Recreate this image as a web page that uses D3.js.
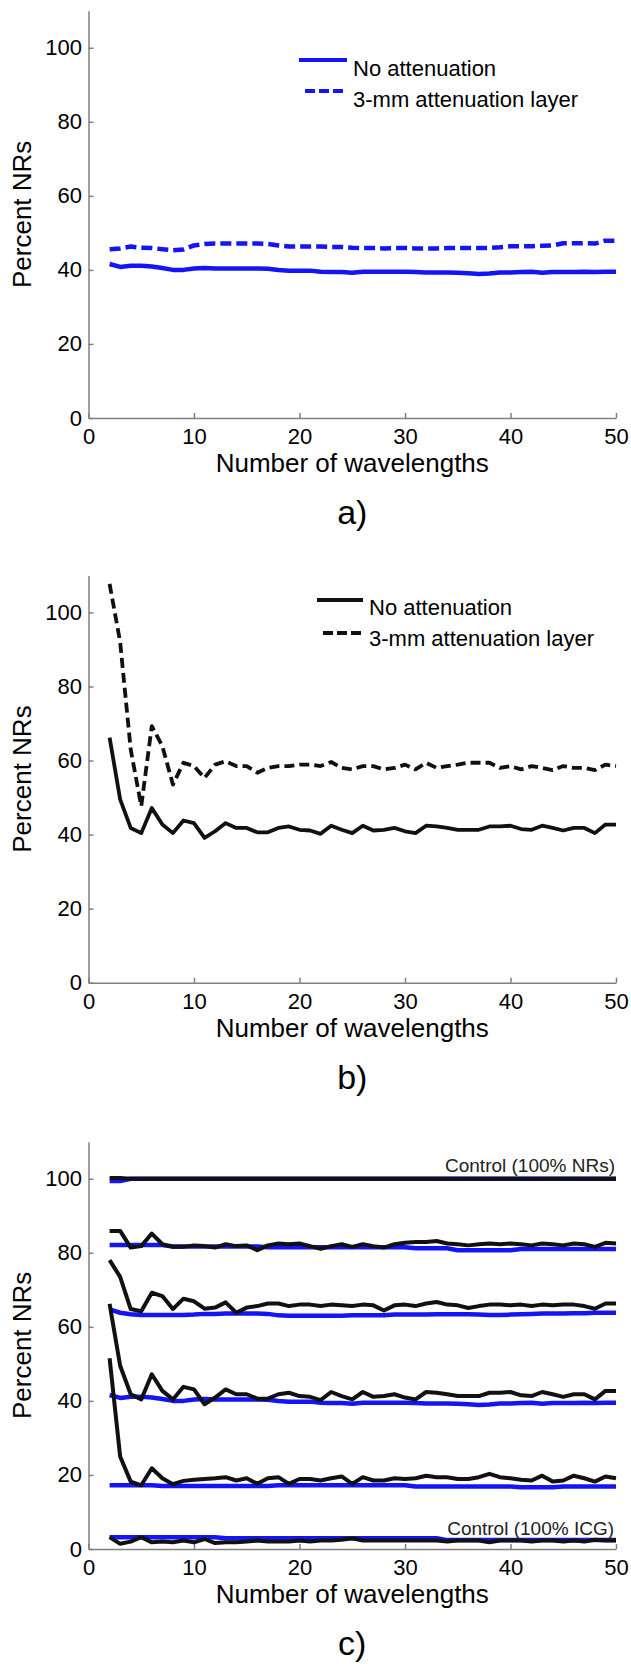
<!DOCTYPE html>
<html>
<head>
<meta charset="utf-8">
<script src="https://cdn.jsdelivr.net/npm/d3@7"></script>
<style>
  body { margin: 0; background: #fff; }
  svg { display: block; font-family: "Liberation Sans", Arial, sans-serif; }
</style>
</head>
<body>
<div id="chart"></div>
<script>
// ---------------- data ----------------
const wavelengths = [2,3,4,5,6,7,8,9,10,11,12,13,14,15,16,17,18,19,20,21,22,23,24,25,26,27,28,29,30,31,32,33,34,35,36,37,38,39,40,41,42,43,44,45,46,47,48,49,50];
const xTicks = [0, 10, 20, 30, 40, 50];
const yTicks = [0, 20, 40, 60, 80, 100];
const panelLetters = ["a)", "b)", "c)"];
const legendNames = ["No attenuation", "3-mm attenuation layer"];
const controlNames = ["Control (100% NRs)", "Control (100% ICG)"];

// a) mixture, blue
const aNoAtten = [41.6,40.8,41.1,41.1,40.9,40.5,40.0,40.0,40.4,40.5,40.4,40.4,40.4,40.4,40.4,40.3,40.0,39.8,39.8,39.8,39.5,39.4,39.4,39.2,39.5,39.5,39.5,39.5,39.5,39.4,39.3,39.3,39.3,39.2,39.1,38.9,39.0,39.3,39.3,39.4,39.5,39.2,39.4,39.4,39.4,39.5,39.4,39.5,39.5];
const aAtten = [45.6,45.8,46.3,46.0,45.9,45.6,45.3,45.5,46.6,47.0,47.1,47.1,47.1,47.1,47.1,47.0,46.6,46.3,46.3,46.3,46.3,46.2,46.2,46.0,45.9,45.9,45.8,45.9,45.9,45.8,45.8,45.8,45.9,45.9,45.9,45.9,45.9,46.1,46.4,46.4,46.4,46.5,46.6,47.2,47.2,47.2,47.1,47.9,47.9];

// b) mixture, black
const bNoAtten = [66.2,49.5,41.8,40.4,47.2,42.7,40.4,43.8,43.1,39.1,40.9,43.1,41.8,41.8,40.6,40.6,41.8,42.2,41.3,41.1,40.2,42.4,41.3,40.4,42.4,41.1,41.3,41.8,40.9,40.4,42.4,42.2,41.8,41.3,41.3,41.3,42.2,42.2,42.4,41.5,41.3,42.4,41.8,41.1,41.8,41.8,40.4,42.7,42.7];
const bAtten = [107.7,92.0,63.0,47.7,69.3,63.9,53.5,59.4,58.5,55.3,58.9,59.8,58.5,58.5,56.7,58.0,58.5,58.5,58.9,58.9,58.5,59.6,58.0,57.6,58.5,58.5,57.6,58.0,58.9,57.6,59.4,58.0,58.5,58.9,59.4,59.4,59.4,58.0,58.5,57.6,58.5,58.0,57.4,58.5,58.0,58.0,57.4,58.9,58.5];

// c) several mixtures, blue = no attenuation, black = attenuation layer
const cBlue100 = [99.4,99.4,100,100,100,100,100,100,100,100,100,100,100,100,100,100,100,100,100,100,100,100,100,100,100,100,100,100,100,100,100,100,100,100,100,100,100,100,100,100,100,100,100,100,100,100,100,100,100];
const cBlue82 = [82.1,82.1,82.1,82.1,82.1,82.1,81.7,81.7,81.7,81.7,81.7,81.7,81.7,81.7,81.7,81.5,81.5,81.5,81.5,81.5,81.5,81.5,81.5,81.5,81.5,81.5,81.5,81.5,81.5,81.2,81.2,81.2,81.2,80.7,80.7,80.7,80.7,80.7,80.7,81.0,81.0,81.0,81.0,81.0,81.0,81.0,81.0,81.0,81.0];
const cBlue64 = [64.7,63.8,63.4,63.2,63.2,63.2,63.2,63.2,63.3,63.5,63.5,63.6,63.6,63.6,63.6,63.5,63.1,63.0,63.0,63.0,63.0,63.0,63.0,63.1,63.1,63.1,63.1,63.3,63.3,63.3,63.3,63.4,63.4,63.4,63.4,63.3,63.2,63.2,63.3,63.4,63.5,63.6,63.6,63.6,63.7,63.7,63.8,63.8,63.8];
const cBlue17 = [17.2,17.2,17.2,17.2,17.2,17.0,17.0,17.0,17.0,17.0,17.0,17.0,17.0,17.0,17.0,17.0,17.2,17.2,17.2,17.2,17.2,17.2,17.2,17.2,17.2,17.2,17.2,17.2,17.2,16.9,16.9,16.9,16.9,16.9,16.9,16.9,16.9,16.9,16.9,16.7,16.7,16.7,16.7,16.9,16.9,16.9,16.9,16.9,16.9];
const cBlueICG = [3.2,3.2,3.2,3.2,3.2,3.2,3.2,3.2,3.2,3.2,3.2,2.9,2.9,2.9,2.9,2.9,2.9,2.9,2.9,2.9,2.9,2.9,2.9,2.9,2.9,2.9,2.9,2.9,2.9,2.9,2.9,2.9,2.4,2.4,2.4,2.4,2.4,2.4,2.4,2.4,2.4,2.4,2.4,2.4,2.4,2.4,2.4,2.4,2.4];
const cBlack100 = [100.2,100.2,100,100,100,100,100,100,100,100,100,100,100,100,100,100,100,100,100,100,100,100,100,100,100,100,100,100,100,100,100,100,100,100,100,100,100,100,100,100,100,100,100,100,100,100,100,100,100];
const cBlack82 = [85.9,85.9,81.4,81.8,85.2,82.3,81.6,81.6,82.0,81.8,81.4,82.3,81.8,82.0,80.7,82.0,82.5,82.3,82.5,81.8,81.1,81.8,82.3,81.6,82.3,81.8,81.4,82.3,82.7,82.9,82.9,83.2,82.5,82.3,82.0,82.3,82.5,82.3,82.5,82.3,82.0,82.5,82.3,82.0,82.5,82.3,81.6,82.7,82.5];
const cBlack66 = [78.0,73.5,64.8,64.2,69.2,68.3,64.8,67.6,66.9,64.9,65.2,66.6,63.8,65.2,65.6,66.3,66.3,65.6,66.0,66.0,65.6,66.0,65.8,65.6,66.0,65.8,64.4,65.8,66.0,65.6,66.3,66.7,66.0,65.8,65.1,65.6,66.0,66.0,65.8,66.0,65.6,66.0,65.8,66.0,66.0,65.6,64.9,66.3,66.3];
const cBlack19 = [51.5,25.0,18.2,17.2,21.8,19.1,17.5,18.4,18.7,18.9,19.1,19.4,18.5,19.1,17.6,19.1,19.4,17.6,18.9,18.9,18.5,19.1,19.6,17.6,19.4,18.5,18.5,19.1,18.9,19.1,19.8,19.4,19.4,18.9,18.9,19.4,20.3,19.4,19.1,18.7,18.5,19.8,18.2,18.5,19.8,19.1,18.2,19.6,19.1];
const cBlackICG = [3.2,1.4,2.0,3.2,1.8,2.0,1.8,2.3,1.8,2.7,1.6,1.8,1.8,2.0,2.3,2.0,2.0,2.0,2.3,2.0,2.3,2.3,2.5,2.9,2.3,2.3,2.3,2.3,2.3,2.3,2.3,2.3,2.0,2.3,2.3,2.3,1.8,2.3,2.3,2.3,2.0,2.3,2.3,2.0,2.3,2.0,2.5,2.3,2.3];

// ---------------- layout ----------------
const fig = { width: 631, height: 1664, left: 88.5, right: 616, plotH: 407.3 };
const blue = "#1414f5";
const black = "#111";

const svg = d3.select("#chart")
  .append("svg")
  .attr("width", fig.width)
  .attr("height", fig.height);

const x = d3.scaleLinear()
  .domain([0, 50])
  .range([fig.left, fig.right]);

const line = d3.line()
  .x((d, i) => x(wavelengths[i]))
  .y(d => d);

// zero line of each panel, and its series
const panels = [
  {
    zero: 418,
    series: [
      { values: aNoAtten, color: blue, width: 4.5, dash: null },
      { values: aAtten, color: blue, width: 4.5, dash: "11,5" }
    ],
    legend: { color: blue, x1: 299, x2: 347, dx1: 305, tx: 353, ly: [60, 91], ty: [76, 107] }
  },
  {
    zero: 982.7,
    series: [
      { values: bNoAtten, color: black, width: 3.8, dash: null },
      { values: bAtten, color: black, width: 3.8, dash: "10,5" }
    ],
    legend: { color: black, x1: 317, x2: 363, dx1: 323, tx: 369, ly: [600, 633], ty: [615, 646] }
  },
  {
    zero: 1549,
    series: [
      { values: cBlue100, color: blue, width: 4.5, dash: null },
      { values: cBlue82, color: blue, width: 4.5, dash: null },
      { values: cBlue64, color: blue, width: 4.5, dash: null },
      { values: aNoAtten, color: blue, width: 4.5, dash: null },
      { values: cBlue17, color: blue, width: 4.5, dash: null },
      { values: cBlueICG, color: blue, width: 4.5, dash: null },
      { values: cBlack100, color: black, width: 4, dash: null },
      { values: cBlack82, color: black, width: 4, dash: null },
      { values: cBlack66, color: black, width: 4, dash: null },
      { values: bNoAtten, color: black, width: 4, dash: null },
      { values: cBlack19, color: black, width: 4, dash: null },
      { values: cBlackICG, color: black, width: 4, dash: null }
    ],
    controls: true
  }
];

panels.forEach((p, k) => {
  const y = d3.scaleLinear()
    .domain([0, 110])
    .range([p.zero, p.zero - fig.plotH]);

  const g = svg.append("g");

  // X axis
  const xAxis = g.append("g")
    .attr("transform", "translate(0," + p.zero + ")")
    .call(d3.axisBottom(x).tickValues(xTicks).tickSizeInner(-5).tickSizeOuter(0).tickPadding(10.5));

  // Y axis
  const yAxis = g.append("g")
    .attr("transform", "translate(" + fig.left + ",0)")
    .call(d3.axisLeft(y).tickValues(yTicks).tickSizeInner(-5).tickSizeOuter(0).tickPadding(6.5));

  [xAxis, yAxis].forEach(a => {
    a.select(".domain").attr("stroke", "#808080").attr("stroke-width", 1.5);
    a.selectAll(".tick line").attr("stroke", "#808080").attr("stroke-width", 1.5);
    a.selectAll("text")
      .attr("fill", "#000")
      .style("font-size", "22px")
      .style("font-family", "'Liberation Sans', Arial, sans-serif");
  });

  // Lines
  p.series.forEach(s => {
    g.append("path")
      .datum(s.values.map(v => y(v)))
      .attr("d", line)
      .attr("fill", "none")
      .attr("stroke", s.color)
      .attr("stroke-width", s.width)
      .attr("stroke-linejoin", "round")
      .attr("stroke-dasharray", s.dash);
  });

  // Legend
  if (p.legend) {
    const L = p.legend;
    g.append("line")
      .attr("x1", L.x1).attr("x2", L.x2)
      .attr("y1", L.ly[0]).attr("y2", L.ly[0])
      .attr("stroke", L.color).attr("stroke-width", 4);
    g.append("line")
      .attr("x1", L.dx1).attr("x2", L.x2)
      .attr("y1", L.ly[1]).attr("y2", L.ly[1])
      .attr("stroke", L.color).attr("stroke-width", 4)
      .attr("stroke-dasharray", "10,4");
    legendNames.forEach((n, i) => {
      g.append("text")
        .attr("x", L.tx)
        .attr("y", L.ty[i])
        .attr("font-size", "22px")
        .attr("fill", "#000")
        .text(n);
    });
  }

  // Control labels (panel c)
  if (p.controls) {
    g.append("text")
      .attr("x", 615).attr("y", 1171.5)
      .attr("text-anchor", "end")
      .attr("font-size", "19px")
      .attr("fill", "#222")
      .text(controlNames[0]);
    g.append("text")
      .attr("x", 614).attr("y", 1535)
      .attr("text-anchor", "end")
      .attr("font-size", "19px")
      .attr("fill", "#222")
      .text(controlNames[1]);
  }

  // Y label
  g.append("text")
    .attr("transform", "translate(31," + (p.zero - fig.plotH / 2) + ") rotate(-90)")
    .attr("text-anchor", "middle")
    .attr("font-size", "26px")
    .attr("fill", "#000")
    .text("Percent NRs");

  // X label
  g.append("text")
    .attr("x", (fig.left + fig.right) / 2)
    .attr("y", p.zero + 54)
    .attr("text-anchor", "middle")
    .attr("font-size", "26px")
    .attr("fill", "#000")
    .text("Number of wavelengths");

  // Panel letter
  g.append("text")
    .attr("x", (fig.left + fig.right) / 2)
    .attr("y", p.zero + 106)
    .attr("text-anchor", "middle")
    .attr("font-size", "34px")
    .attr("fill", "#000")
    .text(panelLetters[k]);
});
</script>
</body>
</html>
